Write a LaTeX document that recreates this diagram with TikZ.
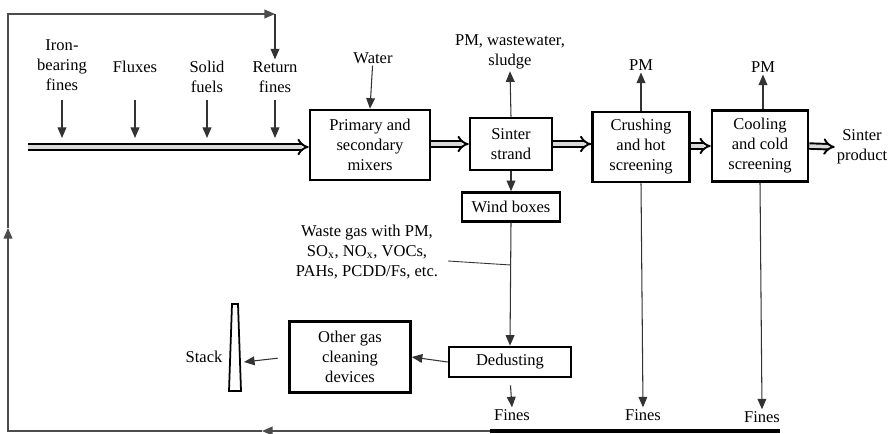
\documentclass[tikz,border=0pt]{standalone}
\usepackage{fontspec}
\setmainfont{Liberation Serif}
\usetikzlibrary{arrows.meta}

\tikzset{
  unit/.style={draw, line width=1.5pt, align=center, inner sep=2pt},
  lbl/.style={align=center, inner sep=1pt},
  arr/.style={draw=black!80, line width=0.6pt, -{Triangle[width=5pt,length=6pt]}},
  flow/.style={line width=1.1pt, double=black!15, double distance=2pt, -{Implies}},
  loopline/.style={draw=black!70, line width=0.7pt}
}

\begin{document}
\begin{tikzpicture}[x=0.02cm, y=-0.02cm]
  \fontsize{9.4}{11.4}\selectfont
  \useasboundingbox (0,0) rectangle (889,433);

  % Raw materials
  \node[lbl] (iron) at (62,65) {Iron-\\bearing\\fines};
  \node[lbl] (flux) at (135,67) {Fluxes};
  \node[lbl] (fuel) at (207,77) {Solid\\fuels};
  \node[lbl] (ret) at (275,77) {Return\\fines};
  \node[lbl] (water) at (373,58) {Water};

  % Process units
  \node[unit, minimum width=2.4cm, minimum height=1.4cm] (mix) at (370,145) {Primary and\\secondary\\mixers};
  \node[unit, minimum width=1.64cm, minimum height=1.04cm] (strand) at (511,144) {Sinter\\strand};
  \node[unit, minimum width=1.96cm, minimum height=0.58cm] (wind) at (511,207) {Wind boxes};
  \node[unit, minimum width=1.94cm, minimum height=1.4cm] (crush) at (641,147) {Crushing\\and hot\\screening};
  \node[unit, minimum width=1.92cm, minimum height=1.42cm] (cool) at (760,146) {Cooling\\and cold\\screening};
  \node[unit, minimum width=2.44cm, minimum height=0.6cm] (dedust) at (510,362) {Dedusting};
  \node[unit, minimum width=2.42cm, minimum height=1.42cm] (other) at (350,357) {Other gas\\cleaning\\devices};

  % Outputs
  \node[lbl] (pmww) at (510,52) {PM, wastewater,\\sludge};
  \node[lbl] (pmcrush) at (641,65) {PM};
  \node[lbl] (pmcool) at (763,67) {PM};
  \node[lbl] (prod) at (862,147) {Sinter\\product};
  \node[lbl] (waste) at (367,252) {Waste gas with PM,\\SO$_\mathrm{x}$, NO$_\mathrm{x}$, VOCs,\\PAHs, PCDD/Fs, etc.};
  \node[lbl] (finesd) at (512,415) {Fines};
  \node[lbl] (finesc) at (643,415) {Fines};
  \node[lbl] (finesk) at (762,417) {Fines};
  \node[lbl] (stacklbl) at (204,357) {Stack};

  % Stack
  \draw[line width=1pt] (229,391) -- (232,304) -- (238,304) -- (241,391) -- cycle;
  \coordinate (stack) at (244,362);

  % Feed arrows onto the belt
  \foreach \src in {iron, flux, fuel, ret}
    \draw[arr] (\src.south |- 0,100) -- (\src.south |- 0,138);
  \coordinate (beltstart) at (28,147);
  \draw[flow] (beltstart) -- (beltstart -| mix.west);
  \draw[arr] (water) -- (mix.north);

  % Main line
  \draw[flow] (mix.east |- strand.west) -- (strand.west);
  \draw[flow] (strand.east) -- (strand.east -| crush.west);
  \draw[flow] (crush.east |- cool.west) -- (cool.west);
  \draw[flow] (cool.east) -- (prod.west);

  % Emissions
  \draw[arr] (strand.north) -- (pmww.south);
  \draw[arr] (crush.north) -- (pmcrush.south);
  \draw[arr] (pmcool.south |- cool.north) -- (pmcool.south);
  \draw[arr] (strand.south) -- (wind.north);
  \draw[arr] (wind.south) -- (dedust.north);
  \coordinate (tap) at (wind.south |- 0,265);
  \draw[draw=black!80, line width=0.5pt] (448,261) -- (tap);

  % Gas cleaning
  \draw[arr] (dedust.west) -- (other.east);
  \draw[arr, shorten <=6pt] (other.west) -- (stack);

  % Fines
  \draw[arr, shorten <=4pt] (dedust.south) -- (finesd.north);
  \draw[arr] (crush.south) -- (finesc.north);
  \draw[arr] (cool.south) -- (finesk.north);

  % Return fines loop
  \coordinate (br) at (780,431);
  \coordinate (bl) at (8,431);
  \coordinate (tl) at (8,14);
  \coordinate (tr) at (275,14);
  \draw[loopline, -{Triangle[width=5pt,length=6pt]}] (br) -- (262,431);
  \draw[loopline, -{Triangle[width=5pt,length=6pt]}] (262,431) -- (bl) -- (8,228);
  \draw[loopline, -{Triangle[width=5pt,length=6pt]}] (8,228) -- (tl) -- (tr);
  \draw[line width=1.8pt] (490,431) -- (br);
  \draw[arr] (tr) -- (ret.north);
\end{tikzpicture}
\end{document}
